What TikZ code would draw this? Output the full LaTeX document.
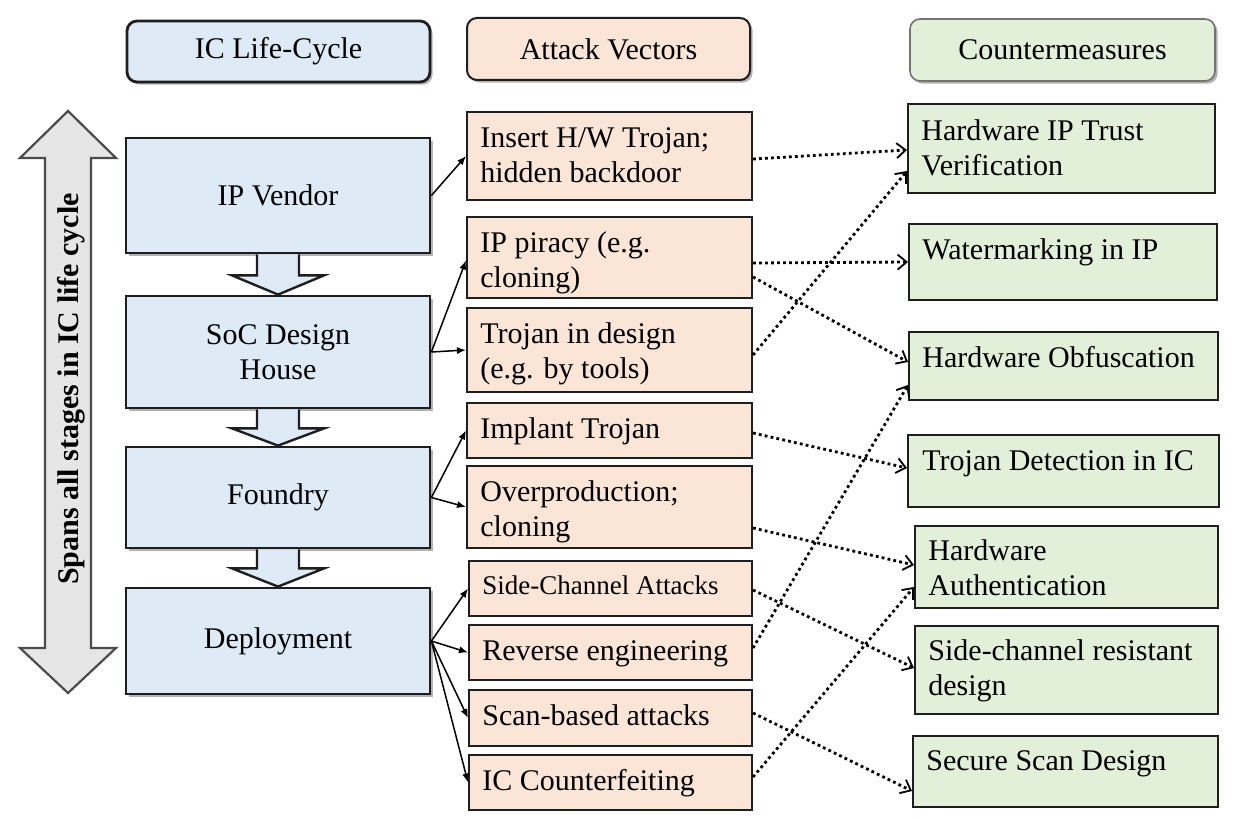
\documentclass[tikz,border=0pt]{standalone}
\usepackage{fontspec}
\setmainfont{Liberation Serif}
\usetikzlibrary{arrows.meta,calc,fit,shadows}
\definecolor{bluef}{HTML}{DEEBF7}
\definecolor{orangef}{HTML}{FBE5D6}
\definecolor{greenf}{HTML}{E2F0D9}
\definecolor{grayf}{HTML}{E7E6E6}
\definecolor{edge}{HTML}{1E1E1E}
\begin{document}
\begin{tikzpicture}[x=0.5pt,y=-0.5pt,
  every node/.style={font=\fontsize{15}{17.5}\selectfont},
  shadowed/.style={drop shadow={shadow xshift=1.3pt,shadow yshift=-1.3pt,opacity=0.3,fill=black}},
  lifebox/.style={draw=edge,fill=bluef,line width=1.4pt,inner sep=0pt,shadowed},
  attbox/.style={draw=edge,fill=orangef,line width=1pt,inner sep=0pt},
  cmbox/.style={draw=edge,fill=greenf,line width=1pt,inner sep=0pt},
  hdrbox/.style={rounded corners=5pt,inner sep=0pt,shadowed},
  lbl/.style={anchor=north west,inner sep=0pt,align=left},
  clbl/.style={inner sep=0pt,align=center},
  blockarr/.style={draw=edge,fill=bluef,line width=1.2pt,line join=miter},
  bigarr/.style={draw=edge!80,fill=grayf,line width=1.1pt,line join=miter},
  solidarr/.style={draw=black,line width=0.75pt,-{Latex[length=4.5pt,width=3.6pt]}},
  dotarr/.style={draw=black,line width=1.4pt,dash pattern=on 1.4pt off 1.6pt,
     -{Straight Barb[length=4.5pt,width=7.5pt,line width=0.9pt]}}
]
\useasboundingbox (0,0) rectangle (1235,818);

% headers
\node[hdrbox,fill=bluef,draw=edge,line width=1.4pt,fit={(127,21)(430,82)}] (h1) {};
\node[clbl] (h1t) at (h1.center) {IC Life-Cycle};
\node[hdrbox,fill=orangef,draw=edge,line width=1pt,fit={(467,18)(750,80)}] (h2) {};
\node[clbl] (h2t) at (h2.center) {Attack Vectors};
\node[hdrbox,fill=greenf,draw=black!55,line width=0.8pt,fit={(910,19)(1215,81)}] (h3) {};
\node[clbl] (h3t) at (h3.center) {Countermeasures};

% big double arrow
\draw[bigarr] (68,111) -- (116,158) -- (91,158) -- (91,648) -- (116,648) -- (68,693)
  -- (20,648) -- (45,648) -- (45,158) -- (20,158) -- cycle;
\node[rotate=90,font=\bfseries\fontsize{15}{17.5}\selectfont,inner sep=0pt] (span) at (71,389)
  {Spans all stages in IC life cycle};

% life-cycle boxes
\node[lifebox,fit={(126,138)(430,253)}] (ipv) {};
\node[clbl] (ipvt) at (ipv.center) {IP Vendor};
\node[lifebox,fit={(126,296)(430,408)}] (soc) {};
\node[clbl] (soct) at (soc.center) {SoC Design\\House};
\node[lifebox,fit={(126,447)(430,548)}] (fdy) {};
\node[clbl] (fdyt) at (fdy.center) {Foundry};
\node[lifebox,fit={(126,588)(430,694)}] (dep) {};
\node[clbl] (dept) at (dep.center) {Deployment};

% block arrows between stages
\foreach \a/\b/\g in {ipv/soc/21,soc/fdy/19,fdy/dep/19}{
  \draw[blockarr] ($(\a.south)+(-21,0)$) -- ($(\a.south)+(-21,\g)$) -- ($(\a.south)+(-46,\g)$)
    -- (\b.north) -- ($(\a.south)+(46,\g)$) -- ($(\a.south)+(21,\g)$) -- ($(\a.south)+(21,0)$);
}

% attack vector boxes
\node[attbox,fit={(467,112)(752,200)}] (ins) {};
\node[lbl] (inst) at (480,122.5) {\strut Insert H/W Trojan;\\hidden backdoor};
\node[attbox,fit={(467,217)(752,298)}] (ipp) {};
\node[lbl] (ippt) at (480,227.5) {\strut IP piracy (e.g.\\cloning)};
\node[attbox,fit={(467,308)(752,392)}] (tid) {};
\node[lbl] (tidt) at (480,318.5) {\strut Trojan in design\\(e.g. by tools)};
\node[attbox,fit={(467,403)(752,458)}] (imp) {};
\node[lbl] (impt) at (480,413.5) {\strut Implant Trojan};
\node[attbox,fit={(467,466)(752,548)}] (ovp) {};
\node[lbl] (ovpt) at (480,476.5) {\strut Overproduction;\\cloning};
\node[attbox,fit={(469,561)(752,616)}] (sca) {};
\node[lbl,font=\fontsize{13.5}{16}\selectfont] (scat) at (482,571.6) {\strut Side-Channel Attacks};
\node[attbox,fit={(469,625)(752,680)}] (rev) {};
\node[lbl] (revt) at (482,635.5) {\strut Reverse engineering};
\node[attbox,fit={(469,690)(752,746)}] (scn) {};
\node[lbl] (scnt) at (482,700.5) {\strut Scan-based attacks};
\node[attbox,fit={(469,755)(752,810)}] (icc) {};
\node[lbl] (icct) at (482,765.5) {\strut IC Counterfeiting};

% countermeasure boxes
\node[cmbox,fit={(908,104)(1215,193)}] (hipt) {};
\node[lbl] (hiptt) at (921,115.5) {\strut Hardware IP Trust\\Verification};
\node[cmbox,fit={(909,224)(1217,300)}] (wm) {};
\node[lbl] (wmt) at (922,234.5) {\strut Watermarking in IP};
\node[cmbox,fit={(909,332)(1218,400)}] (obf) {};
\node[lbl] (obft) at (922,342.5) {\strut Hardware Obfuscation};
\node[cmbox,fit={(908,435)(1219,507)}] (tdi) {};
\node[lbl] (tdit) at (922,445.5) {\strut Trojan Detection in IC};
\node[cmbox,fit={(915,526)(1218,608)}] (hau) {};
\node[lbl] (haut) at (928,535.5) {\strut Hardware\\Authentication};
\node[cmbox,fit={(915,626)(1218,714)}] (scr) {};
\node[lbl] (scrt) at (928,635.5) {\strut Side-channel resistant\\design};
\node[cmbox,fit={(913,736)(1218,807)}] (ssd) {};
\node[lbl] (ssdt) at (926,745.5) {\strut Secure Scan Design};

% solid arrows
\draw[solidarr] (ipv.east) -- (ins.west);
\draw[solidarr] (soc.east) -- ($(ipp.west)+(0,3)$);
\draw[solidarr] (soc.east) -- (tid.west);
\draw[solidarr] (fdy.east) -- (imp.west);
\draw[solidarr] (fdy.east) -- (ovp.west);
\draw[solidarr] (dep.east) -- (sca.west);
\draw[solidarr] (dep.east) -- (rev.west);
\draw[solidarr] (dep.east) -- (scn.west);
\draw[solidarr] (dep.east) -- (icc.west);

% dotted arrows
\draw[dotarr] ($(ins.east)+(0,3)$) -- ($(hipt.west)+(0,1.5)$);
\draw[dotarr] ($(ipp.east)+(0,5.5)$) -- (wm.west);
\draw[dotarr] ($(ipp.east)+(0,19.5)$) -- ($(obf.west)+(0,-4)$);
\draw[dotarr] ($(tid.east)+(0,5)$) -- ($(hipt.west)+(0,22.5)$);
\draw[dotarr] ($(imp.east)+(0,2.5)$) -- ($(tdi.west)+(0,-3)$);
\draw[dotarr] ($(ovp.east)+(0,21)$) -- ($(hau.west)+(0,-2)$);
\draw[dotarr] ($(sca.east)+(0,1.5)$) -- ($(scr.west)+(0,-2)$);
\draw[dotarr] ($(rev.east)+(0,-4.5)$) -- ($(obf.west)+(0,19)$);
\draw[dotarr] ($(scn.east)+(0,-5)$) -- ($(ssd.west)+(0,19.5)$);
\draw[dotarr] ($(icc.east)+(0,-5.5)$) -- ($(hau.west)+(0,20)$);
\end{tikzpicture}
\end{document}
